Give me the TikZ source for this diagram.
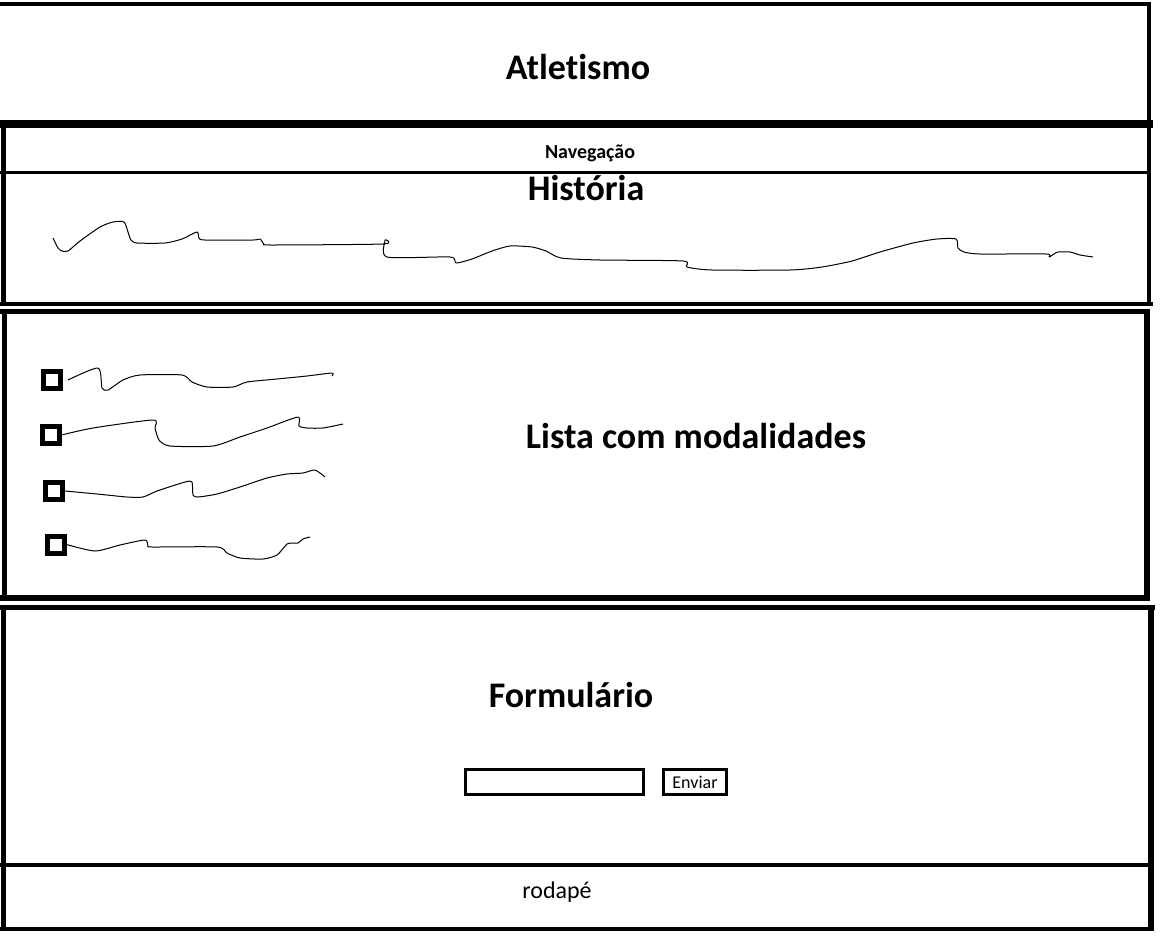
\documentclass[tikz,border=0pt]{standalone}
\usepackage{fontspec}
\setmainfont[Ligatures={NoCommon}]{Carlito}
\usepackage{tikz}
\usetikzlibrary{positioning}

\begin{document}
\begin{tikzpicture}[x=1pt, y=-1pt,
    titulo/.style={font=\bfseries\fontsize{36}{40}\selectfont, anchor=base, inner sep=0pt},
    menor/.style={font=\bfseries\fontsize{20}{24}\selectfont, anchor=base, inner sep=0pt},
    texto/.style={font=\fontsize{24}{28}\selectfont, anchor=base, inner sep=0pt},
    chk/.style={draw, line width=5pt, minimum size=17pt, inner sep=0pt},
    rabisco/.style={line width=1pt, line join=round}]
    \useasboundingbox (0,0) rectangle (1164,935);

    % Cabecalho
    \draw[line width=4pt] (0,4) -- (1151,4);
    \draw[line width=4pt] (1149,2) -- (1149,124);
    \draw[line width=8pt] (0,124) -- (1153,124);
    \node[titulo] (atletismo) at (578,79) {Atletismo};

    % Navegacao e Historia
    \draw[line width=5pt] (3,124) -- (3,306);
    \draw[line width=4pt] (1149,124) -- (1149,306);
    \draw[line width=3pt] (0,172) -- (1151,172);
    \draw[line width=4pt] (0,304) -- (1153,304);
    \node[menor] (nav) at (590,158) {Navegação};
    \node[titulo] (historia) at (586,200) {História};
    \draw[rabisco] plot[smooth, tension=0.4] coordinates {(53,238) (58,248) (62,251) (68,251) (80,241)
        (100,227) (113,222) (124,222) (128,232) (131,240) (137,243) (165,243) (182,239) (197,232)
        (199,238) (205,240) (253,240) (260,239) (264,244) (272,245) (383,244) (385,240) (387,257)
        (450,257) (456,263) (472,259) (492,251) (510,246) (532,247) (546,251) (561,258) (600,260)
        (683,261) (687,267) (712,270) (790,270) (822,267) (852,261) (880,252) (913,243) (937,239)
        (956,239) (958,248) (964,252) (980,254) (1046,254) (1049,257) (1054,254) (1058,252)
        (1070,252) (1080,255) (1093,257)};

    % Lista com modalidades
    \draw[line width=5pt] (0,311) -- (1150,311);
    \draw[line width=5pt] (4,309) -- (4,601);
    \draw[line width=6pt] (1147,309) -- (1147,601);
    \draw[line width=6pt] (0,598) -- (1150,598);
    \node[titulo] (lista) at (696,448) {Lista com modalidades};
    \node[chk] (chk1) at (52,380) {};
    \node[chk] (chk2) at (50.5,435) {};
    \node[chk] (chk3) at (54,491) {};
    \node[chk] (chk4) at (55.5,544.5) {};
    \draw[rabisco] plot[smooth, tension=0.4] coordinates {(68,380) (98,368) (102,388) (108,390) (123,380)
        (140,375) (182,375) (192,382) (207,387) (233,387) (247,382) (277,379) (307,376) (332,373) (332,376)};
    \draw[rabisco] plot[smooth, tension=0.4] coordinates {(chk2.east) (93,428) (153,420) (155,428)
        (159,440) (170,446) (213,446) (240,437) (267,428) (298,417) (299,426) (307,428) (323,428) (343,424)};
    \draw[rabisco] plot[smooth, tension=0.4] coordinates {(chk3.east) (97,494) (127,497) (143,497)
        (157,491) (185,482) (192,482) (193,495) (198,497) (217,494) (240,487) (267,478) (287,474)
        (303,473) (315,470) (325,477)};
    \draw[rabisco] plot[smooth, tension=0.4] coordinates {(chk4.east) (95,551) (120,545) (145,540)
        (148,546) (153,547) (217,547) (227,553) (240,558) (263,559) (277,555) (287,544) (293,543)
        (298,543) (303,539) (310,537)};

    % Formulario
    \draw[line width=5pt] (0,607) -- (1155,607);
    \draw[line width=5pt] (3,605) -- (3,931);
    \draw[line width=6pt] (1151,605) -- (1151,931);
    \draw[line width=4pt] (0,865) -- (1153,865);
    \node[titulo] (form) at (571,707) {Formulário};
    \node[draw, line width=3pt, minimum width=178pt, minimum height=25pt, inner sep=0pt] (campo) at (554.5,782) {};
    \node[draw, line width=3pt, minimum width=63pt, minimum height=25pt, inner sep=0pt,
        font=\fontsize{18}{20}\selectfont] (botao) at (695,782) {Enviar};

    % Rodape
    \draw[line width=4pt] (0,929) -- (1153,929);
    \node[texto] (rodape) at (557,898) {rodapé};
\end{tikzpicture}
\end{document}
